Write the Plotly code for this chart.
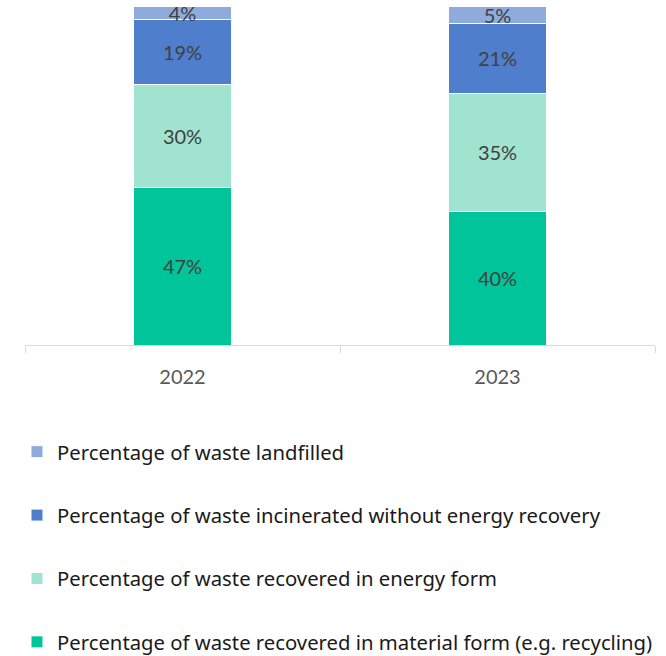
import plotly.graph_objects as go

years = ["2022", "2023"]
series_names = [
    "Percentage of waste recovered in material form (e.g. recycling)",
    "Percentage of waste recovered in energy form",
    "Percentage of waste incinerated without energy recovery",
    "Percentage of waste landfilled",
]
material = [46.6, 39.5]
energy = [30.1, 34.8]
incinerated = [19.2, 20.6]
landfilled = [4.1, 5.1]
material_labels = ["47%", "40%"]
energy_labels = ["30%", "35%"]
incinerated_labels = ["19%", "21%"]
landfilled_labels = ["4%", "5%"]
colors = ["#00C49A", "#A0E3CF", "#4F7FCC", "#8FAADC"]

values = [material, energy, incinerated, landfilled]
labels = [material_labels, energy_labels, incinerated_labels, landfilled_labels]

FONT = "Lato"
LEGEND_FONT = "Noto Sans"
fig = go.Figure()
for i, (name, vals, labs, col) in enumerate(zip(series_names, values, labels, colors)):
    fig.add_trace(go.Bar(
        x=years, y=vals, name=name, text=labs,
        textposition="inside", insidetextanchor="middle",
        constraintext="none", textangle=0,
        textfont=dict(family=FONT, size=20, color="#404040"),
        marker=dict(color=col, line=dict(color="white", width=1)),
        legendgroup=str(i), legendrank=len(series_names) - i,
        hoverinfo="skip",
    ))

fig.update_layout(
    barmode="stack",
    bargap=0.69,
    width=666, height=656,
    margin=dict(l=25, r=11, t=6, b=311, autoexpand=False),
    plot_bgcolor="white", paper_bgcolor="white",
    font=dict(family=FONT, color="#595959"),
    xaxis=dict(
        showline=True, linecolor="#D9D9D9", linewidth=1,
        ticks="outside", tickson="boundaries", ticklen=7, tickcolor="#D9D9D9",
        tickfont=dict(family=FONT, size=20, color="#595959"),
        ticklabelstandoff=14,
        showgrid=False,
    ),
    yaxis=dict(range=[0, 100], visible=False),
    legend=dict(
        orientation="v", traceorder="grouped", tracegroupgap=34,
        x=-0.0127, xanchor="left", y=-0.2566, yanchor="top",
        font=dict(family=LEGEND_FONT, size=20.3, color="#1A1A1A"),
        itemclick=False,
    ),
    showlegend=True,
)

fig.write_html("out.html", config={"displayModeBar": False},
               post_script="document.body.style.margin='0';")
